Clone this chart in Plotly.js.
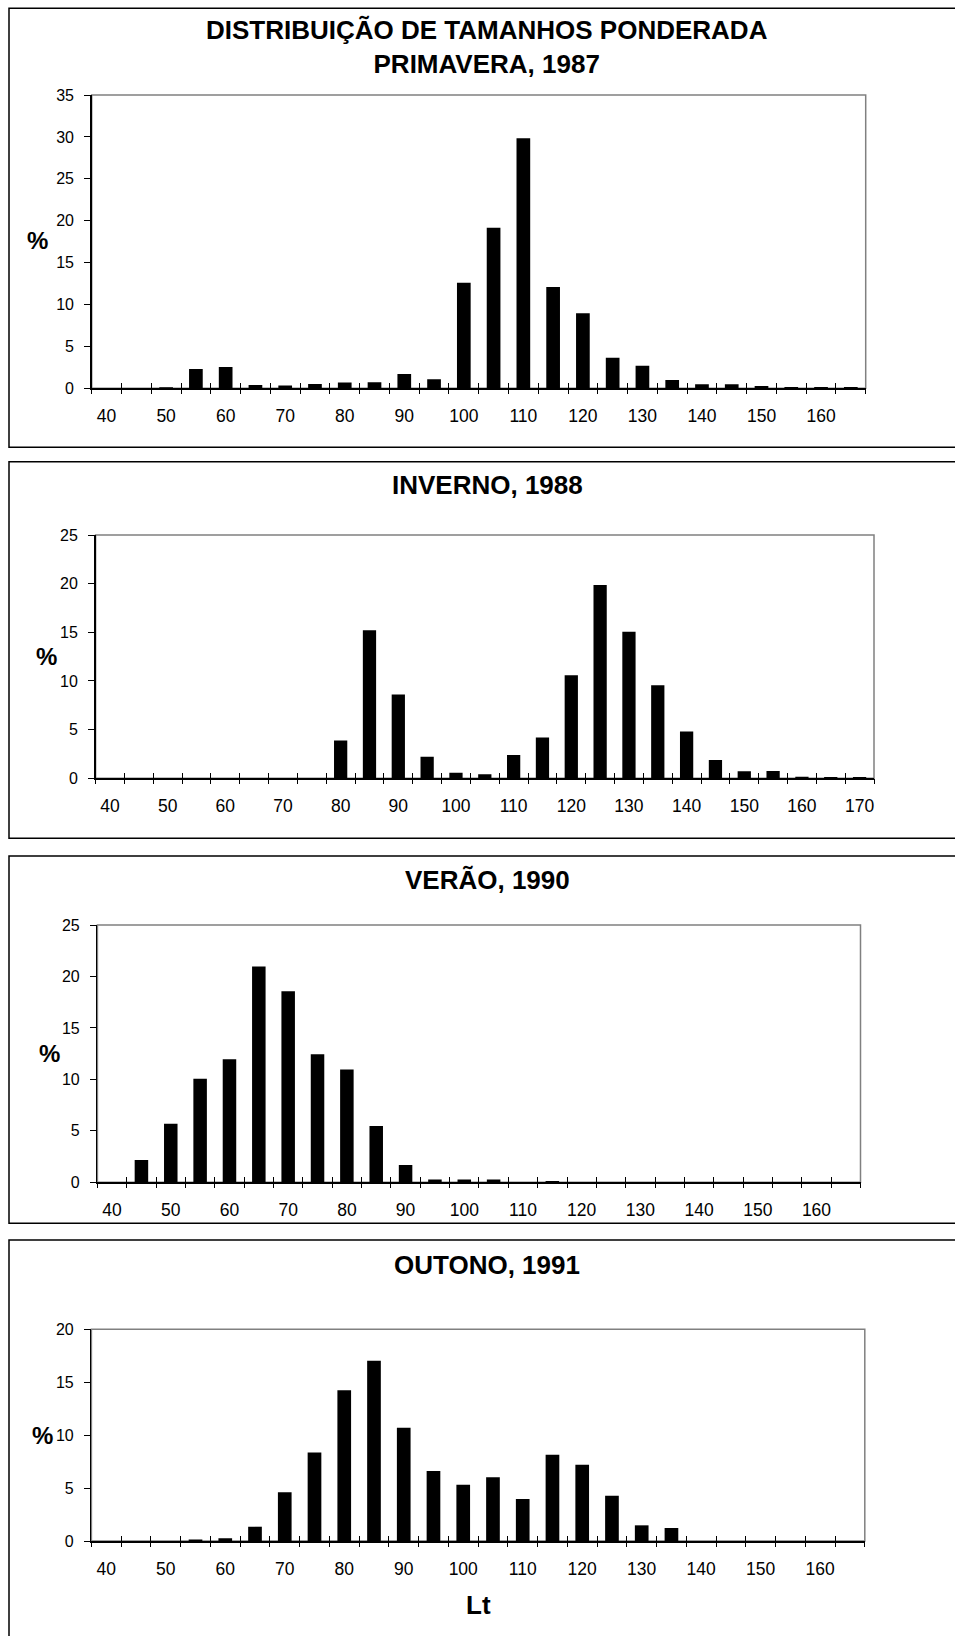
<!DOCTYPE html>
<html>
<head>
<meta charset="utf-8">
<script src="https://cdn.plot.ly/plotly-3.0.1.min.js"></script>
<style>
html, body { margin: 0; padding: 0; overflow: hidden; background: #ffffff; }
#chart { width: 955px; height: 1636px; }
</style>
</head>
<body>
<div id="chart"></div>
<script>
// ---- DATA (classes de comprimento Lt, % ponderada) ----
const lt_primavera1987 = [40,45,50,55,60,65,70,75,80,85,90,95,100,105,110,115,120,125,130,135,140,145,150,155,160,165];
const pct_primavera1987 = [0,0,0.12,2.3,2.55,0.4,0.32,0.52,0.68,0.72,1.7,1.07,12.6,19.15,29.85,12.1,8.95,3.65,2.7,0.98,0.47,0.47,0.28,0.15,0.15,0.15];

const lt_inverno1988 = [40,45,50,55,60,65,70,75,80,85,90,95,100,105,110,115,120,125,130,135,140,145,150,155,160,165,170];
const pct_inverno1988 = [0,0,0,0,0,0,0,0,3.88,15.22,8.62,2.22,0.58,0.41,2.4,4.2,10.58,19.85,15.07,9.55,4.82,1.88,0.72,0.75,0.17,0.14,0.14];

const lt_verao1990 = [40,45,50,55,60,65,70,75,80,85,90,95,100,105,110,115,120,125,130,135,140,145,150,155,160,165];
const pct_verao1990 = [0,2.17,5.68,10.07,11.95,20.97,18.56,12.45,10.95,5.47,1.68,0.26,0.26,0.26,0,0.13,0,0,0,0,0,0,0,0,0,0];

const lt_outono1991 = [40,45,50,55,60,65,70,75,80,85,90,95,100,105,110,115,120,125,130,135,140,145,150,155,160,165];
const pct_outono1991 = [0,0,0,0.13,0.25,1.35,4.6,8.35,14.24,17.02,10.71,6.61,5.32,6.02,3.97,8.16,7.21,4.28,1.48,1.23,0,0,0,0,0,0];

const titles = [
  'DISTRIBUIÇÃO DE TAMANHOS PONDERADA<br>PRIMAVERA, 1987',
  'INVERNO, 1988',
  'VERÃO, 1990',
  'OUTONO, 1991'
];
const yLabel = '%';
const xLabel = 'Lt';
const yMax = [35, 25, 25, 20];

// ---- LAYOUT GEOMETRY (pixels) ----
const W = 955, H = 1636;
const FONT = 'Liberation Sans, Arial, Helvetica, sans-serif';
const panels = [
  {cats: lt_primavera1987, vals: pct_primavera1987, box: [8.3, 447.3], plot: [91.7, 865.7, 95, 388.3], titleY: 47, pct: [37.5, 241]},
  {cats: lt_inverno1988,  vals: pct_inverno1988,  box: [461.7, 838.3], plot: [95.6, 874, 535, 778.3], titleY: 485.5, pct: [46.5, 656.7]},
  {cats: lt_verao1990,    vals: pct_verao1990,    box: [856, 1223.3], plot: [97.4, 860.5, 925, 1182.3], titleY: 880.5, pct: [49.4, 1053.5]},
  {cats: lt_outono1991,   vals: pct_outono1991,   box: [1240, 1700], plot: [91.4, 864.8, 1329.3, 1541], titleY: 1264.7, pct: [42.5, 1435]}
];
const fx = px => px / W;
const fy = py => 1 - py / H;

const data = [];
const layout = {
  width: W, height: H,
  margin: {l: 0, r: 0, t: 0, b: 0, pad: 0},
  paper_bgcolor: '#ffffff', plot_bgcolor: 'rgba(0,0,0,0)',
  showlegend: false,
  bargap: 0.54,
  font: {family: FONT, color: '#000000', size: 15},
  shapes: [], annotations: []
};

panels.forEach((p, i) => {
  const n1 = 3 * i + 1, n2 = 3 * i + 2, n3 = 3 * i + 3;
  const xid = k => (k === 1 ? 'x' : 'x' + k);
  const xkey = k => (k === 1 ? 'xaxis' : 'xaxis' + k);
  const yid = 'y' + (i === 0 ? '' : (i + 1));
  const ykey = 'yaxis' + (i === 0 ? '' : (i + 1));
  const step = p.cats[1] - p.cats[0];
  const range = [p.cats[0] - step / 2, p.cats[p.cats.length - 1] + step / 2];
  const bounds = p.cats.map(c => c - step / 2).concat([p.cats[p.cats.length - 1] + step / 2]);
  const labelVals = p.cats.filter((c, k) => k % 2 === 0);
  const xdom = [fx(p.plot[0]), fx(p.plot[1])];
  const ydom = [fy(p.plot[3]), fy(p.plot[2])];

  data.push({
    type: 'bar', x: p.cats, y: p.vals, xaxis: xid(n1), yaxis: yid,
    marker: {color: '#000000', line: {width: 0}}, hoverinfo: 'x+y'
  });
  // empty helper traces so the tick-only overlay axes get drawn
  [n2, n3].forEach(k => data.push({
    type: 'scatter', mode: 'markers', x: [], y: [], xaxis: xid(k), yaxis: yid,
    hoverinfo: 'skip', showlegend: false
  }));

  // base axis: labels + axis line
  layout[xkey(n1)] = {
    domain: xdom, anchor: yid, range: range, type: 'linear',
    tickmode: 'array', tickvals: labelVals, ticktext: labelVals.map(String),
    ticks: '', showline: true, linecolor: '#000000', linewidth: 1.5,
    showgrid: false, zeroline: false, fixedrange: true,
    tickfont: {family: FONT, size: 17.5, color: '#000000'}, ticklabelstandoff: 11
  };
  // outward ticks on category boundaries
  layout[xkey(n2)] = {
    overlaying: xid(n1), anchor: yid, range: range, type: 'linear', side: 'bottom',
    tickmode: 'array', tickvals: bounds, ticktext: bounds.map(() => ''),
    ticks: 'outside', ticklen: 5, tickwidth: 1,
    tickcolor: '#000000', showticklabels: false, showline: false, showgrid: false, zeroline: false,
    fixedrange: true
  };
  // inward ticks on category boundaries (cross ticks)
  layout[xkey(n3)] = {
    overlaying: xid(n1), anchor: yid, range: range, type: 'linear', side: 'bottom',
    tickmode: 'array', tickvals: bounds, ticktext: bounds.map(() => ''),
    ticks: 'inside', ticklen: 5, tickwidth: 1,
    tickcolor: '#000000', showticklabels: false, showline: false, showgrid: false, zeroline: false,
    fixedrange: true
  };
  layout[ykey] = {
    domain: ydom, anchor: xid(n1), range: [0, yMax[i]], dtick: 5, tick0: 0,
    ticks: 'outside', ticklen: 6, tickwidth: 1, tickcolor: '#000000',
    showline: true, linecolor: '#000000', linewidth: 1.5,
    showgrid: false, zeroline: false, fixedrange: true,
    tickfont: {family: FONT, size: 16, color: '#000000'}, ticklabelstandoff: 7
  };

  // grey plot-area frame
  layout.shapes.push({
    type: 'rect', xref: 'paper', yref: 'paper', layer: 'below',
    x0: xdom[0], x1: xdom[1], y0: ydom[0], y1: ydom[1],
    line: {color: '#808080', width: 1.5}, fillcolor: 'rgba(0,0,0,0)'
  });
  // outer chart box
  layout.shapes.push({
    type: 'rect', xref: 'paper', yref: 'paper', layer: 'below',
    x0: fx(9), x1: fx(1000), y0: fy(p.box[1]), y1: fy(p.box[0]),
    line: {color: '#000000', width: 1.5}, fillcolor: 'rgba(0,0,0,0)'
  });

  layout.annotations.push({
    xref: 'paper', yref: 'paper', x: fx(487), y: fy(p.titleY),
    xanchor: 'center', yanchor: 'middle', showarrow: false,
    text: '<b>' + titles[i] + '</b>',
    font: {family: FONT, size: 26, color: '#000000'}
  });
  layout.annotations.push({
    xref: 'paper', yref: 'paper', x: fx(p.pct[0]), y: fy(p.pct[1]),
    xanchor: 'center', yanchor: 'middle', showarrow: false,
    text: '<b>' + yLabel + '</b>',
    font: {family: FONT, size: 24, color: '#000000'}
  });
});

layout.annotations.push({
  xref: 'paper', yref: 'paper', x: fx(478.5), y: fy(1604.5),
  xanchor: 'center', yanchor: 'middle', showarrow: false,
  text: '<b>' + xLabel + '</b>',
  font: {family: FONT, size: 26, color: '#000000'}
});

Plotly.newPlot('chart', data, layout, {displayModeBar: false, staticPlot: true});
</script>
</body>
</html>
